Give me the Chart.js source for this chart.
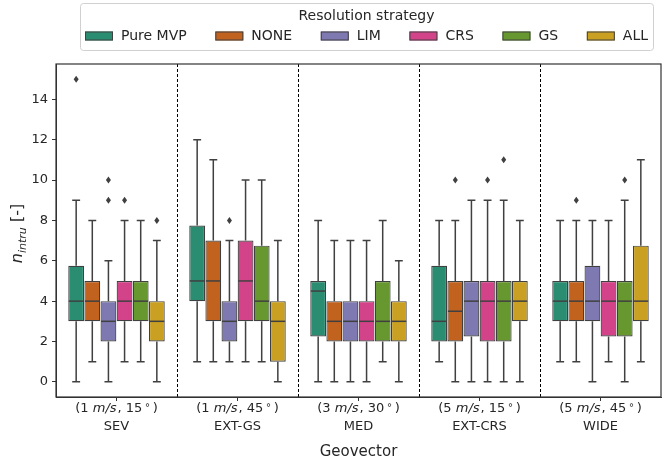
<!DOCTYPE html>
<html>
<head>
<meta charset="utf-8">
<script src="https://cdn.jsdelivr.net/npm/chart.js@4/dist/chart.umd.min.js"></script>
<style>
  html, body { margin: 0; padding: 0; background: #fff; }
  #wrap { width: 664px; height: 464px; }
</style>
</head>
<body>
<div id="wrap"><canvas id="chart" width="664" height="464"></canvas></div>
<script>
// categories
const geovectors = ["SEV", "EXT-GS", "MED", "EXT-CRS", "WIDE"];
const speeds = ["1", "1", "3", "5", "5"];
const angles = ["15", "45", "30", "15", "45"];
const strategies = ["Pure MVP", "NONE", "LIM", "CRS", "GS", "ALL"];
const colors = ["#2a8d71", "#c2621f", "#7e79b1", "#d3438a", "#67982f", "#c9a021"];
const yTicks = [0, 2, 4, 6, 8, 10, 12, 14];

// box stats per geovector: [whisker low, q1, median, q3, whisker high]
const pureMvp = [[0, 3, 4, 5.75, 9], [1, 4, 5, 7.75, 12], [0, 2.25, 4.5, 5, 8], [1, 2, 3, 5.75, 8], [1, 3, 4, 5, 8]];
const none    = [[1, 3, 4, 5, 8], [1, 3, 5, 7, 11], [0, 2, 3, 4, 7], [0, 2, 3.5, 5, 8], [1, 3, 4, 5, 8]];
const lim     = [[0, 2, 3, 4, 6], [1, 2, 3, 4, 7], [0, 2, 3, 4, 7], [0, 2.25, 4, 5, 9], [0, 3, 4, 5.75, 8]];
const crs     = [[1, 3, 4, 5, 8], [1, 3, 5, 7, 10], [0, 2, 3, 4, 7], [0, 2, 4, 5, 9], [1, 2.25, 4, 5, 8]];
const gs      = [[1, 3, 4, 5, 8], [1, 3, 4, 6.75, 10], [1, 2, 3, 5, 8], [0, 2, 4, 5, 9], [0, 2.25, 4, 5, 9]];
const all     = [[0, 2, 3, 4, 7], [0, 1, 3, 4, 7], [0, 2, 3, 4, 6], [0, 3, 4, 5, 8], [1, 3, 4, 6.75, 11]];

// outliers per geovector
const pureMvpOut = [[15], [], [], [], []];
const noneOut    = [[], [], [], [10], [9]];
const limOut     = [[9, 10], [8], [], [], []];
const crsOut     = [[9], [], [], [10], []];
const gsOut      = [[], [], [], [11], [10]];
const allOut     = [[8], [], [], [], []];

const stats = [pureMvp, none, lim, crs, gs, all];
const outliers = [pureMvpOut, noneOut, limOut, crsOut, gsOut, allOut];

const FONT = "'DejaVu Sans', sans-serif";
const INK = "#262626";
const LINE = "#404040";

// whiskers, medians, outliers, dividers, frame, labels, legend
const boxExtras = {
  id: "boxExtras",
  afterDatasetsDraw(chart) {
    const { ctx, chartArea: a, scales: { x, y } } = chart;
    ctx.save();
    chart.data.datasets.forEach((ds, di) => {
      const meta = chart.getDatasetMeta(di);
      meta.data.forEach((el, i) => {
        const [lo, q1, med, q3, hi] = stats[di][i];
        const cx = el.x, w = el.width, cap = w / 2;
        ctx.strokeStyle = LINE;
        ctx.lineWidth = 1.5;
        ctx.beginPath();
        ctx.moveTo(cx, y.getPixelForValue(q1)); ctx.lineTo(cx, y.getPixelForValue(lo));
        ctx.moveTo(cx, y.getPixelForValue(q3)); ctx.lineTo(cx, y.getPixelForValue(hi));
        ctx.moveTo(cx - cap / 2, y.getPixelForValue(lo)); ctx.lineTo(cx + cap / 2, y.getPixelForValue(lo));
        ctx.moveTo(cx - cap / 2, y.getPixelForValue(hi)); ctx.lineTo(cx + cap / 2, y.getPixelForValue(hi));
        ctx.stroke();
        ctx.beginPath();
        ctx.moveTo(cx - w / 2 + 0.5, y.getPixelForValue(med)); ctx.lineTo(cx + w / 2 - 0.5, y.getPixelForValue(med));
        ctx.stroke();
        ctx.fillStyle = LINE;
        outliers[di][i].forEach(v => {
          const py = y.getPixelForValue(v);
          ctx.beginPath();
          ctx.moveTo(cx, py - 3.5); ctx.lineTo(cx + 2.5, py); ctx.lineTo(cx, py + 3.5); ctx.lineTo(cx - 2.5, py);
          ctx.closePath(); ctx.fill();
        });
      });
    });

    // dashed separators
    ctx.strokeStyle = "#000";
    ctx.lineWidth = 1;
    ctx.setLineDash([3, 2]);
    for (let i = 0; i < geovectors.length - 1; i++) {
      const px = Math.round((x.getPixelForValue(i) + x.getPixelForValue(i + 1)) / 2) + 0.5;
      ctx.beginPath(); ctx.moveTo(px, a.top); ctx.lineTo(px, a.bottom); ctx.stroke();
    }
    ctx.setLineDash([]);

    // frame
    ctx.strokeStyle = "#333";
    ctx.lineWidth = 1.2;
    ctx.strokeRect(a.left, a.top, a.right - a.left, a.bottom - a.top);

    // x tick labels: [text, font, extra space after, raise]
    ctx.fillStyle = INK;
    ctx.textBaseline = "middle";
    geovectors.forEach((g, i) => {
      const cx = x.getPixelForValue(i);
      const parts = [["(" + speeds[i] + " ", "13px ", 0, 0], ["m/s", "italic 13px ", 1, 0], [", " + angles[i], "13px ", 2, 0], ["∘", "10px ", 2, -4], [")", "13px ", 0, 0]];
      let total = 0;
      parts.forEach(p => { ctx.font = p[1] + FONT; total += ctx.measureText(p[0]).width + p[2]; });
      let px = cx - total / 2;
      ctx.textAlign = "left";
      parts.forEach(p => { ctx.font = p[1] + FONT; ctx.fillText(p[0], px, 409 + p[3]); px += ctx.measureText(p[0]).width + p[2]; });
      ctx.font = "13px " + FONT;
      ctx.textAlign = "center";
      ctx.fillText(g, cx, 427);
    });
    ctx.font = "15px " + FONT;
    ctx.textAlign = "center";
    ctx.fillText("Geovector", (a.left + a.right) / 2, 452);

    // y title with subscript
    ctx.save();
    ctx.translate(22, (a.top + a.bottom) / 2 + 3);
    ctx.rotate(-Math.PI / 2);
    ctx.textBaseline = "alphabetic";
    ctx.textAlign = "left";
    const yparts = [["n", "italic 16px ", 0], ["intru", "italic 11px ", 4], [" [-]", "16px ", 0]];
    let tw = 0;
    yparts.forEach(p => { ctx.font = p[1] + FONT; tw += ctx.measureText(p[0]).width; });
    let tx = -tw / 2;
    yparts.forEach(p => { ctx.font = p[1] + FONT; ctx.fillText(p[0], tx, p[2]); tx += ctx.measureText(p[0]).width; });
    ctx.restore();

    // legend
    const lx = 80, ly = 3, lw = 573, lh = 47;
    ctx.fillStyle = "#fff";
    ctx.strokeStyle = "#d0d0d0";
    ctx.lineWidth = 1;
    ctx.beginPath(); ctx.roundRect(lx + 0.5, ly + 0.5, lw, lh, 3); ctx.fill(); ctx.stroke();
    ctx.fillStyle = INK;
    ctx.font = "14px " + FONT;
    ctx.textAlign = "center";
    ctx.textBaseline = "middle";
    ctx.fillText("Resolution strategy", lx + lw / 2, 16);
    ctx.textAlign = "left";
    const sw = 28, sh = 9, gapIn = 8;
    let textSum = 0;
    strategies.forEach(s => { textSum += ctx.measureText(s).width; });
    const inner = lw - 10;
    const gapOut = (inner - strategies.length * (sw + gapIn) - textSum) / (strategies.length - 1);
    let ix = lx + 5;
    strategies.forEach((s, i) => {
      ctx.fillStyle = colors[i];
      ctx.fillRect(ix, 36 - sh / 2, sw, sh);
      ctx.strokeStyle = LINE;
      ctx.lineWidth = 1;
      ctx.strokeRect(ix + 0.5, 36 - sh / 2 + 0.5, sw - 1, sh - 1);
      ctx.fillStyle = INK;
      ctx.fillText(s, ix + sw + gapIn, 36);
      ix += sw + gapIn + ctx.measureText(s).width + gapOut;
    });
    ctx.restore();
  }
};

new Chart(document.getElementById("chart"), {
  type: "bar",
  data: {
    labels: geovectors,
    datasets: strategies.map((s, di) => ({
      label: s,
      data: stats[di].map(b => [b[1], b[3]]),
      backgroundColor: colors[di],
      borderColor: LINE,
      borderWidth: 1.2,
      borderSkipped: false,
      categoryPercentage: 0.8,
      barPercentage: 0.98
    }))
  },
  options: {
    responsive: false,
    animation: false,
    devicePixelRatio: 1,
    layout: { padding: { top: 64, right: 3, left: 0, bottom: 0 } },
    plugins: { legend: { display: false }, tooltip: { enabled: false } },
    scales: {
      x: {
        offset: true,
        grid: { offset: false, drawOnChartArea: false, drawTicks: true, tickLength: 4, color: "#333" },
        border: { display: true, color: "#333" },
        ticks: { display: false },
        afterFit: s => { s.height = 67; }
      },
      y: {
        min: -0.75,
        max: 15.75,
        afterBuildTicks: s => { s.ticks = yTicks.map(v => ({ value: v })); },
        grid: { drawOnChartArea: false, drawTicks: true, tickLength: 4, color: "#333" },
        border: { display: true, color: "#333" },
        ticks: { color: INK, font: { family: FONT, size: 13 }, padding: 4 },
        afterFit: s => { s.width = 56; }
      }
    }
  },
  plugins: [boxExtras]
});
</script>
</body>
</html>
